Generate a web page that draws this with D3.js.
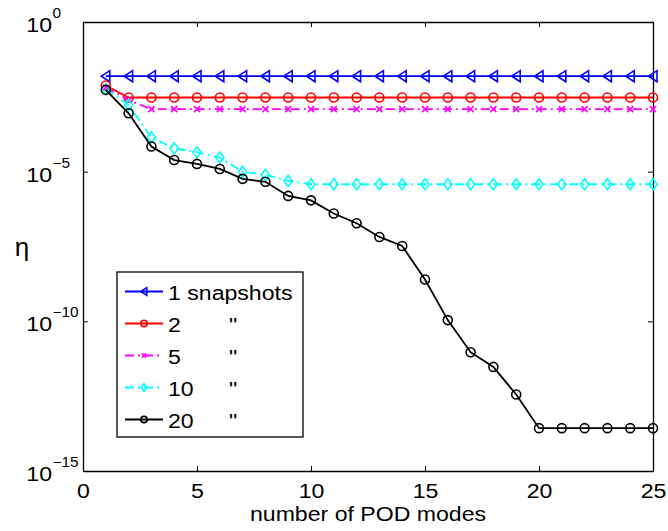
<!DOCTYPE html>
<html>
<head>
<meta charset="utf-8">
<script src="https://cdn.jsdelivr.net/npm/d3@7"></script>
<style>
  body { margin: 0; background: #fff; }
  text { font-family: "Liberation Sans", Arial, Helvetica, sans-serif; fill: #000; }
</style>
</head>
<body>
<div id="chart-area"></div>
<script>
// Data (eta vs. number of POD modes)
const modes = [1,2,3,4,5,6,7,8,9,10,11,12,13,14,15,16,17,18,19,20,21,22,23,24,25];

const eta1 = [1.55e-2,1.55e-2,1.55e-2,1.55e-2,1.55e-2,1.55e-2,1.55e-2,1.55e-2,1.55e-2,1.55e-2,
    1.55e-2,1.55e-2,1.55e-2,1.55e-2,1.55e-2,1.55e-2,1.55e-2,1.55e-2,1.55e-2,1.55e-2,
    1.55e-2,1.55e-2,1.55e-2,1.55e-2,1.55e-2];
const eta2 = [7.6e-3,3.0e-3,3.0e-3,3.0e-3,3.0e-3,3.0e-3,3.0e-3,3.0e-3,3.0e-3,3.0e-3,
    3.0e-3,3.0e-3,3.0e-3,3.0e-3,3.0e-3,3.0e-3,3.0e-3,3.0e-3,3.0e-3,3.0e-3,
    3.0e-3,3.0e-3,3.0e-3,3.0e-3,3.0e-3];
const eta5 = [6.5e-3,2.45e-3,1.23e-3,1.23e-3,1.23e-3,1.23e-3,1.23e-3,1.23e-3,1.23e-3,1.23e-3,
    1.23e-3,1.23e-3,1.23e-3,1.23e-3,1.23e-3,1.23e-3,1.23e-3,1.23e-3,1.23e-3,1.23e-3,
    1.23e-3,1.23e-3,1.23e-3,1.23e-3,1.23e-3];
const eta10 = [5.75e-3,1.7e-3,1.41e-4,6.0e-5,4.47e-5,2.95e-5,1.0e-5,7.8e-6,4.9e-6,3.8e-6,
    3.8e-6,3.8e-6,3.8e-6,3.8e-6,3.8e-6,3.8e-6,3.8e-6,3.8e-6,3.8e-6,3.8e-6,
    3.8e-6,3.8e-6,3.8e-6,3.8e-6,3.8e-6];
const eta20 = [5.4e-3,8.9e-4,6.9e-5,2.45e-5,1.82e-5,1.23e-5,5.75e-6,4.6e-6,1.55e-6,1.1e-6,
    4.0e-7,1.9e-7,6.6e-8,3.3e-8,2.5e-9,1.1e-10,9.3e-12,3.0e-12,3.6e-13,2.7e-14,
    2.7e-14,2.7e-14,2.7e-14,2.7e-14,2.7e-14];

const seriesNames = ["1 snapshots", "2", "5", "10", "20"];
const xTicks = [0,5,10,15,20,25];
const yTickExps = [0,-5,-10,-15];

const series = [
    { name: seriesNames[0], values: eta1,  color: "#0000ff", dash: null,      marker: "tri" },
    { name: seriesNames[1], values: eta2,  color: "#ff0000", dash: null,      marker: "circle" },
    { name: seriesNames[2], values: eta5,  color: "#ff00ff", dash: "9,4,2,4", marker: "x" },
    { name: seriesNames[3], values: eta10, color: "#00ffff", dash: "9,4,2,4", marker: "diamond" },
    { name: seriesNames[4], values: eta20, color: "#000000", dash: null,      marker: "circle" }
];

const margin = { left: 83, right: 15, top: 22, bottom: 60 },
    width = 668 - margin.left - margin.right,
    height = 531 - margin.top - margin.bottom;

const sx = 1.1; // text in the figure is stretched horizontally

const svg = d3.select("#chart-area").append("svg")
    .attr("width", 668)
    .attr("height", 531);

const g = svg.append("g")
    .attr("transform", "translate(" + margin.left + "," + margin.top + ")");

// Scales
const x = d3.scaleLinear().domain([0, 25]).range([0, width]);
const y = d3.scaleLog().domain([1e-15, 1]).range([height, 0]);
const yTicks = yTickExps.map(e => Math.pow(10, e));

// Axes (matlab style: ticks inward, box all round)
const axes = [
    { gen: d3.axisBottom(x).tickValues(xTicks), tr: "translate(0," + height + ")" },
    { gen: d3.axisTop(x).tickValues(xTicks).tickFormat(""), tr: "translate(0,0)" },
    { gen: d3.axisLeft(y).tickValues(yTicks).tickFormat(""), tr: "translate(0,0)" },
    { gen: d3.axisRight(y).tickValues(yTicks).tickFormat(""), tr: "translate(" + width + ",0)" }
];
axes.forEach(a => {
    const ag = g.append("g")
        .attr("transform", a.tr)
        .call(a.gen.tickSizeInner(-5).tickSizeOuter(0).tickPadding(12));
    ag.select(".domain").attr("stroke", "#000").attr("stroke-width", 1.3);
    ag.selectAll(".tick line").attr("stroke", "#000").attr("stroke-width", 1);
    ag.selectAll("text")
        .attr("font-size", "21px")
        .attr("font-family", "Liberation Sans, Arial, sans-serif")
        .attr("fill", "#000")
        .attr("transform", "scale(" + sx + ",1)");
});

// y tick labels 10^n
yTicks.forEach((v, i) => {
    const t = g.append("g")
        .attr("transform", "translate(-31," + (y(v) + 10) + ") scale(" + sx + ",1)");
    t.append("text")
        .attr("text-anchor", "end")
        .attr("font-size", "21px")
        .text("10");
    t.append("text")
        .attr("x", 0.5)
        .attr("y", -14)
        .attr("font-size", "14px")
        .text(yTickExps[i] === 0 ? "0" : "\u2212" + Math.abs(yTickExps[i]));
});

// axis labels
svg.append("g")
    .attr("transform", "translate(" + (margin.left + width / 2) + ",521) scale(" + sx + ",1)")
    .append("text")
    .attr("text-anchor", "middle")
    .attr("font-size", "21px")
    .text("number of POD modes");

svg.append("text")
    .attr("x", 22)
    .attr("y", 256)
    .attr("text-anchor", "middle")
    .attr("font-family", "Liberation Serif, Times New Roman, serif")
    .attr("font-size", "26px")
    .text("\u03b7");

// Markers
function drawMarker(sel, type, color, s) {
    if (type === "circle") {
        sel.append("circle").attr("r", 4.5 * s)
            .attr("fill", "none").attr("stroke", color).attr("stroke-width", 1.6);
    } else if (type === "tri") {
        sel.append("path")
            .attr("d", "M" + (-4.5 * s) + ",0L" + (4 * s) + "," + (-5.5 * s) + "L" + (4 * s) + "," + (5.5 * s) + "Z")
            .attr("fill", "none").attr("stroke", color).attr("stroke-width", 1.6);
    } else if (type === "diamond") {
        sel.append("path")
            .attr("d", "M0," + (-5.5 * s) + "L" + (4.2 * s) + ",0L0," + (5.5 * s) + "L" + (-4.2 * s) + ",0Z")
            .attr("fill", "none").attr("stroke", color).attr("stroke-width", 1.6);
    } else if (type === "x") {
        const r = 3 * s;
        sel.append("path")
            .attr("d", "M" + (-r) + "," + (-r) + "L" + r + "," + r + "M" + (-r) + "," + r + "L" + r + "," + (-r))
            .attr("fill", "none").attr("stroke", color).attr("stroke-width", 1.6);
    }
}

const line = d3.line()
    .x((d, i) => x(modes[i]))
    .y(d => y(d));

series.forEach(s => {
    g.append("path")
        .attr("d", line(s.values))
        .attr("fill", "none")
        .attr("stroke", s.color)
        .attr("stroke-width", 1.8)
        .attr("stroke-dasharray", s.dash);

    g.selectAll(null)
        .data(s.values)
        .enter().append("g")
        .attr("transform", (d, i) => "translate(" + x(modes[i]) + "," + y(d) + ")")
        .each(function() { drawMarker(d3.select(this), s.marker, s.color, 1); });
});

// Legend
const legend = svg.append("g").attr("transform", "translate(117,272)");
legend.append("rect")
    .attr("width", 186)
    .attr("height", 165)
    .attr("fill", "#fff")
    .attr("stroke", "#000")
    .attr("stroke-width", 1.3);

series.forEach((s, i) => {
    const row = legend.append("g").attr("transform", "translate(0," + (19.5 + i * 32) + ")");
    row.append("line")
        .attr("x1", 8).attr("x2", 46)
        .attr("stroke", s.color)
        .attr("stroke-width", 1.8)
        .attr("stroke-dasharray", s.dash);
    const m = row.append("g").attr("transform", "translate(27,0)");
    drawMarker(m, s.marker, s.color, 0.7);
    row.append("g")
        .attr("transform", "translate(51,8) scale(" + sx + ",1)")
        .append("text")
        .attr("font-size", "21px")
        .text(s.name);
    if (i > 0) {
        row.append("g")
            .attr("transform", "translate(112,8) scale(" + sx + ",1)")
            .append("text")
            .attr("font-size", "21px")
            .text("\"");
    }
});
</script>
</body>
</html>
